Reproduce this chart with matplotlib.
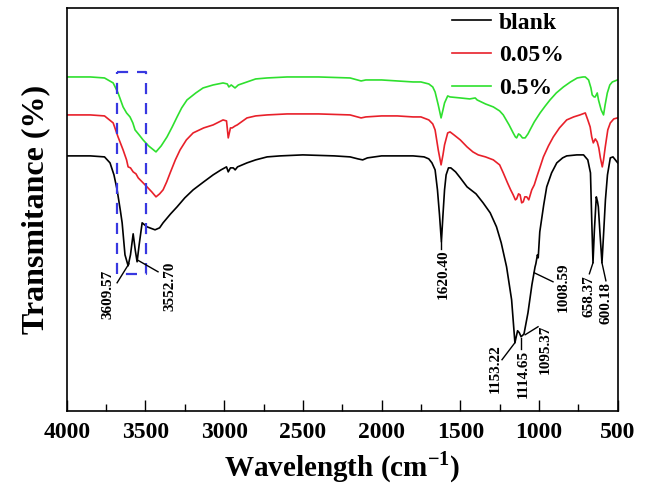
import matplotlib
matplotlib.use("Agg")
import matplotlib.pyplot as plt
from matplotlib.ticker import MultipleLocator

plt.rcParams["mathtext.fontset"] = "custom"
plt.rcParams["mathtext.rm"] = "Liberation Serif:bold"
plt.rcParams["mathtext.bf"] = "Liberation Serif:bold"

# ---------------- data (transmittance, arbitrary units) ----------------
blank_wn = [4000, 3850, 3760, 3725, 3700, 3680, 3660, 3648, 3630, 3610, 3595, 3578, 3565, 3553,
            3540, 3521, 3490, 3439, 3410, 3388, 3340, 3299, 3250, 3197, 3130, 3070, 3020, 2985,
            2974, 2960, 2942, 2930, 2915, 2855, 2800, 2727, 2644, 2500, 2300, 2200, 2150, 2120,
            2090, 2000, 1900, 1800, 1730, 1700, 1680, 1660, 1645, 1632, 1620, 1610, 1600, 1590,
            1575, 1560, 1530, 1500, 1457, 1400, 1355, 1310, 1270, 1240, 1206, 1174, 1153, 1136,
            1125, 1114, 1100, 1095, 1070, 1045, 1025, 1020, 1010, 1005, 995, 970, 951, 920, 887,
            850, 824, 760, 717, 690, 673, 665, 657, 648, 636, 628, 623, 612, 600, 590, 578, 565,
            547, 530, 515, 500]
blank_t = [255, 255, 254, 248, 236, 221, 201, 188, 156, 145, 156, 177, 161, 149,
           166, 188, 184, 181, 183, 188, 197, 204, 213, 221, 229, 236, 241, 244,
           239, 243, 243, 241, 244, 248, 251, 254, 255, 256, 255, 254, 252, 251,
           253, 255, 255, 255, 254, 252, 248, 241, 221, 196, 169, 196, 221, 236,
           243, 243, 239, 233, 224, 217, 208, 198, 184, 168, 144, 111, 68, 80,
           78, 74, 76, 77, 98, 126, 144, 147, 156, 153, 179, 206, 224, 238, 248,
           253, 255, 256, 256, 251, 238, 191, 148, 181, 214, 209, 204, 176, 148, 176, 211, 236,
           253, 254, 251, 248]

red_wn = [4000, 3850, 3760, 3705, 3674, 3642, 3620, 3610, 3595, 3578, 3560, 3546, 3521, 3490,
          3460, 3433, 3410, 3388, 3365, 3343, 3310, 3280, 3240, 3197, 3130, 3070, 3007, 2985,
          2974, 2960, 2949, 2930, 2917, 2855, 2800, 2727, 2600, 2400, 2200, 2130, 2100, 2000,
          1900, 1800, 1750, 1700, 1675, 1660, 1640, 1622, 1610, 1600, 1580, 1565, 1540, 1500,
          1457, 1420, 1386, 1340, 1290, 1250, 1227, 1200, 1180, 1164, 1150, 1142, 1130, 1120,
          1110, 1100, 1090, 1078, 1065, 1046, 1030, 1014, 995, 972, 940, 909, 870, 824, 780,
          740, 706, 690, 675, 665, 655, 642, 630, 620, 610, 598, 590, 579, 563, 547, 525, 502]
red_t = [296, 296, 295, 288, 274, 261, 251, 244, 243, 239, 237, 233, 229, 224,
         219, 214, 217, 221, 229, 238, 251, 261, 271, 278, 283, 286, 291, 290,
         273, 283, 283, 285, 286, 293, 295, 296, 297, 297, 296, 293, 294, 295,
         295, 294, 294, 291, 287, 281, 261, 246, 256, 266, 278, 279, 276, 271,
         264, 259, 256, 254, 251, 246, 238, 228, 221, 216, 211, 212, 217, 216,
         208, 209, 214, 214, 211, 221, 226, 234, 243, 254, 265, 274, 283, 291, 294,
         296, 298, 291, 284, 274, 268, 272, 269, 263, 253, 244, 251, 264, 281, 288, 292, 293]

green_wn = [4000, 3850, 3760, 3705, 3674, 3642, 3620, 3598, 3580, 3566, 3540, 3515, 3480, 3433,
            3400, 3363, 3330, 3299, 3270, 3236, 3180, 3134, 3070, 3007, 2980, 2970, 2955, 2931,
            2910, 2855, 2800, 2727, 2600, 2400, 2200, 2130, 2100, 2000, 1900, 1800, 1750, 1700,
            1675, 1660, 1640, 1622, 1610, 1600, 1580, 1565, 1500, 1440, 1405, 1393, 1340, 1290,
            1250, 1227, 1190, 1164, 1150, 1142, 1130, 1120, 1105, 1088, 1070, 1057, 1030, 993,
            960, 930, 890, 845, 800, 757, 720, 706, 685, 670, 662, 650, 643, 630, 622, 605, 590,
            580, 566, 550, 534, 502]
green_t = [334, 334, 333, 328, 318, 304, 298, 294, 288, 281, 276, 271, 265, 259,
           265, 274, 284, 294, 303, 311, 318, 323, 326, 328, 327, 324, 326, 323,
           326, 329, 332, 333, 334, 334, 333, 330, 331, 331, 330, 329, 329, 327,
           324, 319, 306, 293, 301, 308, 315, 314, 313, 312, 313, 311, 307, 304,
           300, 296, 286, 278, 274, 273, 277, 276, 273, 273, 277, 281, 289, 298,
           305, 311, 318, 324, 329, 333, 334, 334, 331, 323, 316, 314, 314, 318, 311, 301, 296,
           306, 318, 326, 329, 331]

series_names = ["blank", "0.05%", "0.5%"]

# peak labels: text, text centre wavenumber, text top, leader start (wn, T), leader end (wn, T)
peak_labels = ["3609.57", "3552.70", "1620.40", "1153.22", "1114.65", "1095.37", "1008.59", "658.37", "600.18"]
label_wn = [3738, 3343, 1607, 1279, 1100, 961, 847, 680, 575]
label_top = [141, 149, 161, 66, 61, 86, 148, 136, 129]
leader_x0 = [3605, 3553, 1620, 1153, 1117, 1088, 1030, 657, 600]
leader_y0 = [147, 151, 169, 68, 73, 76, 138, 148, 148]
leader_x1 = [3680, 3420, 1620, 1235, 1117, 1006, 911, 680, 575]
leader_y1 = [128, 139, 162, 51, 62, 84, 129, 137, 130]

# highlighted region (dashed box)
box_wn = [3680, 3496]
box_t = [137, 339]

xticks = [4000, 3500, 3000, 2500, 2000, 1500, 1000, 500]

# ---------------- plot ----------------
serif = "Liberation Serif"
fig = plt.figure(figsize=(6.46, 4.86), dpi=100)
ax = fig.add_axes([0.1033, 0.155, 0.8529, 0.8285])

lw = 1.2
ax.plot(blank_wn, blank_t, color="black", lw=lw, label=series_names[0])
ax.plot(red_wn, red_t, color="#e8202a", lw=lw, label=series_names[1])
ax.plot(green_wn, green_t, color="#2ee02e", lw=lw, label=series_names[2])

# dashed box
ax.plot([box_wn[0], box_wn[1], box_wn[1], box_wn[0], box_wn[0]],
        [box_t[1], box_t[1], box_t[0], box_t[0], box_t[1]],
        color="#3838e0", lw=1.6, dashes=(5, 4))

for txt, xw, yt, a0, b0, a1, b1 in zip(peak_labels, label_wn, label_top,
                                         leader_x0, leader_y0, leader_x1, leader_y1):
    ax.plot([a0, a1], [b0, b1], color="black", lw=1.0)
    ax.text(xw, yt, txt, rotation=90, ha="center", va="top",
            fontsize=11, fontweight="bold", family=serif)

ax.set_xlim(4000, 500)
ax.set_ylim(0, 403)
ax.set_xticks(xticks)
ax.xaxis.set_minor_locator(MultipleLocator(250))
ax.set_yticks([])
ax.tick_params(axis="x", which="major", direction="in", length=8, width=1.0, pad=8,
               top=False, labelsize=17)
ax.tick_params(axis="x", which="minor", direction="in", length=5, width=1.0, top=False)
for lab in ax.get_xticklabels():
    lab.set_fontfamily(serif)
    lab.set_fontweight("bold")
for s in ax.spines.values():
    s.set_linewidth(1.2)

ax.set_xlabel("Wavelength (cm$^{\\mathrm{-1}}$)", fontsize=21, fontweight="bold",
              family=serif, labelpad=5)
ax.set_ylabel("Transmitance (%)", fontsize=23, fontweight="bold", family=serif, labelpad=12)

leg = ax.legend(loc="upper left", bbox_to_anchor=(0.699, 0.99), borderaxespad=0.0,
                borderpad=0.0, handlelength=1.65, handletextpad=0.35, labelspacing=0.47,
                frameon=False, prop={"family": serif, "weight": "bold", "size": 17})

fig.savefig("out.png", dpi=100)
